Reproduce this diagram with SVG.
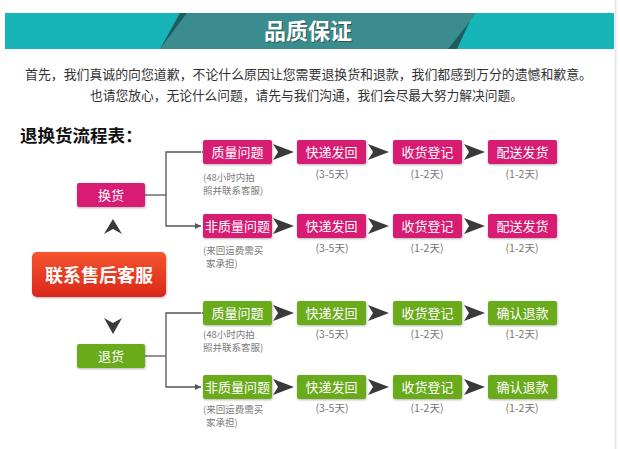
<svg xmlns="http://www.w3.org/2000/svg" width="620" height="449" viewBox="0 0 620 449">
<defs>
<style>
.t{font-family:"Noto Sans CJK SC","Noto Sans",sans-serif}
.bt{font-family:"Noto Sans CJK SC","Noto Sans",sans-serif;font-size:13px;fill:#fff;text-anchor:middle}
.sub{font-family:"Noto Sans CJK SC","Noto Sans",sans-serif;font-size:9.5px;fill:#7a7a7a}
.day{font-family:"Noto Sans CJK SC","Noto Sans",sans-serif;font-size:10.5px;fill:#777;text-anchor:middle}
.pk{fill:#d91a73}
.gr{fill:#6aab1e}
.chev{fill:#3a3a3a}
.con{stroke:#555;stroke-width:1.3;fill:none}
</style>
<linearGradient id="red" x1="0" y1="0" x2="0" y2="1">
<stop offset="0" stop-color="#f5552e"/>
<stop offset="1" stop-color="#d9261a"/>
</linearGradient>
<marker id="ah" viewBox="0 0 6 6" refX="6" refY="3" markerWidth="6" markerHeight="6" orient="auto" markerUnits="userSpaceOnUse">
<path d="M0,0 L6,3 L0,6 Z" fill="#555"/>
</marker>
<path id="ch" d="M0,0 L21,8 L0,16 L5,8 Z"/>
<filter id="sh" x="-10%" y="-10%" width="130%" height="140%">
<feDropShadow dx="0.5" dy="1" stdDeviation="0.8" flood-color="#000" flood-opacity="0.3"/>
</filter>
</defs>
<rect width="620" height="449" fill="#fff"/>
<line x1="615.5" y1="0" x2="615.5" y2="449" stroke="#e8e8e8" stroke-width="2"/>

<g id="header">
<rect x="5" y="13" width="609" height="36" fill="#17b5b8"/>
<polygon points="187,13 476,13 448,49 160,49" fill="#3a8c8e"/>
<polygon points="180,13 187,13 160,49" fill="#1f5c5e"/>
<polygon points="448,49 457,49 470,21" fill="#1f5c5e"/>
<text class="t" x="308" y="39" font-size="22" font-weight="bold" fill="#222" text-anchor="middle" opacity="0.5" transform="translate(1,1)">品质保证</text>
<text class="t" x="308" y="39" font-size="22" font-weight="bold" fill="#fff" text-anchor="middle">品质保证</text>
</g>

<g id="intro">
<text class="t" x="308.5" y="78.5" font-size="13" fill="#333" text-anchor="middle" textLength="567" lengthAdjust="spacingAndGlyphs">首先，我们真诚的向您道歉，不论什么原因让您需要退换货和退款，我们都感到万分的遗憾和歉意。</text>
<text class="t" x="306.5" y="99.5" font-size="13" fill="#333" text-anchor="middle" textLength="433" lengthAdjust="spacingAndGlyphs">也请您放心，无论什么问题，请先与我们沟通，我们会尽最大努力解决问题。</text>
</g>

<g id="title">
<text class="t" x="20" y="142" font-size="17.5" font-weight="bold" fill="#111">退换货流程表：</text>
</g>

<g id="connectors">
<polyline class="con" points="145,195 166,195"/>
<polyline class="con" points="201,152 166,152 166,226 201,226" marker-start="url(#ah)" marker-end="url(#ah)"/>
<polyline class="con" points="145,356 166,356"/>
<polyline class="con" points="201,313 166,313 166,387 201,387" marker-start="url(#ah)" marker-end="url(#ah)"/>
<polygon class="chev" points="113,219 122,234 113,229 104,234"/>
<polygon class="chev" points="113,334 122,318 113,323 104,318"/>
<use href="#ch" class="chev" x="273" y="144"/>
<use href="#ch" class="chev" x="368" y="144"/>
<use href="#ch" class="chev" x="464" y="144"/>
<use href="#ch" class="chev" x="273" y="218"/>
<use href="#ch" class="chev" x="368" y="218"/>
<use href="#ch" class="chev" x="464" y="218"/>
<use href="#ch" class="chev" x="273" y="305"/>
<use href="#ch" class="chev" x="368" y="305"/>
<use href="#ch" class="chev" x="464" y="305"/>
<use href="#ch" class="chev" x="273" y="379"/>
<use href="#ch" class="chev" x="368" y="379"/>
<use href="#ch" class="chev" x="464" y="379"/>
</g>

<g id="contact">
<rect x="32" y="252" width="134" height="45" rx="5" fill="url(#red)" filter="url(#sh)"/>
<text class="t" x="99" y="282" font-size="18" font-weight="bold" fill="#fff" text-anchor="middle">联系售后客服</text>
</g>

<g id="exchange">
<rect class="pk" x="77" y="183" width="68" height="24" rx="2" filter="url(#sh)"/>
<text class="bt" x="111" y="199.5">换货</text>
</g>
<g id="refund">
<rect class="gr" x="77" y="344" width="68" height="24" rx="2" filter="url(#sh)"/>
<text class="bt" x="111" y="360.5">退货</text>
</g>

<g id="r1">
<rect class="pk" x="203" y="140" width="69" height="24" rx="2" filter="url(#sh)"/>
<text class="bt" x="237.5" y="156.5">质量问题</text>
<text class="sub" x="203" y="180.5">(48小时内拍</text>
<text class="sub" x="203" y="194">照并联系客服)</text>
<rect class="pk" x="297" y="140" width="69" height="24" rx="2" filter="url(#sh)"/>
<text class="bt" x="331.5" y="156.5">快递发回</text>
<text class="day" x="332" y="178">(3-5天)</text>
<rect class="pk" x="393" y="140" width="69" height="24" rx="2" filter="url(#sh)"/>
<text class="bt" x="427.5" y="156.5">收货登记</text>
<text class="day" x="427" y="178">(1-2天)</text>
<rect class="pk" x="488" y="140" width="69" height="24" rx="2" filter="url(#sh)"/>
<text class="bt" x="522.5" y="156.5">配送发货</text>
<text class="day" x="522" y="178">(1-2天)</text>
</g>

<g id="r2">
<rect class="pk" x="203" y="214" width="69" height="24" rx="2" filter="url(#sh)"/>
<text class="bt" x="237.5" y="230.5">非质量问题</text>
<text class="sub" x="203" y="253.5">(来回运费需买</text>
<text class="sub" x="206" y="267">家承担)</text>
<rect class="pk" x="297" y="214" width="69" height="24" rx="2" filter="url(#sh)"/>
<text class="bt" x="331.5" y="230.5">快递发回</text>
<text class="day" x="332" y="252">(3-5天)</text>
<rect class="pk" x="393" y="214" width="69" height="24" rx="2" filter="url(#sh)"/>
<text class="bt" x="427.5" y="230.5">收货登记</text>
<text class="day" x="427" y="252">(1-2天)</text>
<rect class="pk" x="488" y="214" width="69" height="24" rx="2" filter="url(#sh)"/>
<text class="bt" x="522.5" y="230.5">配送发货</text>
<text class="day" x="522" y="252">(1-2天)</text>
</g>

<g id="r3">
<rect class="gr" x="203" y="301" width="69" height="24" rx="2" filter="url(#sh)"/>
<text class="bt" x="237.5" y="317.5">质量问题</text>
<text class="sub" x="203" y="337.5">(48小时内拍</text>
<text class="sub" x="203" y="351">照并联系客服)</text>
<rect class="gr" x="297" y="301" width="69" height="24" rx="2" filter="url(#sh)"/>
<text class="bt" x="331.5" y="317.5">快递发回</text>
<text class="day" x="332" y="338">(3-5天)</text>
<rect class="gr" x="393" y="301" width="69" height="24" rx="2" filter="url(#sh)"/>
<text class="bt" x="427.5" y="317.5">收货登记</text>
<text class="day" x="427" y="338">(1-2天)</text>
<rect class="gr" x="488" y="301" width="69" height="24" rx="2" filter="url(#sh)"/>
<text class="bt" x="522.5" y="317.5">确认退款</text>
<text class="day" x="522" y="338">(1-2天)</text>
</g>

<g id="r4">
<rect class="gr" x="203" y="375" width="69" height="24" rx="2" filter="url(#sh)"/>
<text class="bt" x="237.5" y="391.5">非质量问题</text>
<text class="sub" x="203" y="412.5">(来回运费需买</text>
<text class="sub" x="206" y="426">家承担)</text>
<rect class="gr" x="297" y="375" width="69" height="24" rx="2" filter="url(#sh)"/>
<text class="bt" x="331.5" y="391.5">快递发回</text>
<text class="day" x="332" y="412">(3-5天)</text>
<rect class="gr" x="393" y="375" width="69" height="24" rx="2" filter="url(#sh)"/>
<text class="bt" x="427.5" y="391.5">收货登记</text>
<text class="day" x="427" y="412">(1-2天)</text>
<rect class="gr" x="488" y="375" width="69" height="24" rx="2" filter="url(#sh)"/>
<text class="bt" x="522.5" y="391.5">确认退款</text>
<text class="day" x="522" y="412">(1-2天)</text>
</g>
</svg>
